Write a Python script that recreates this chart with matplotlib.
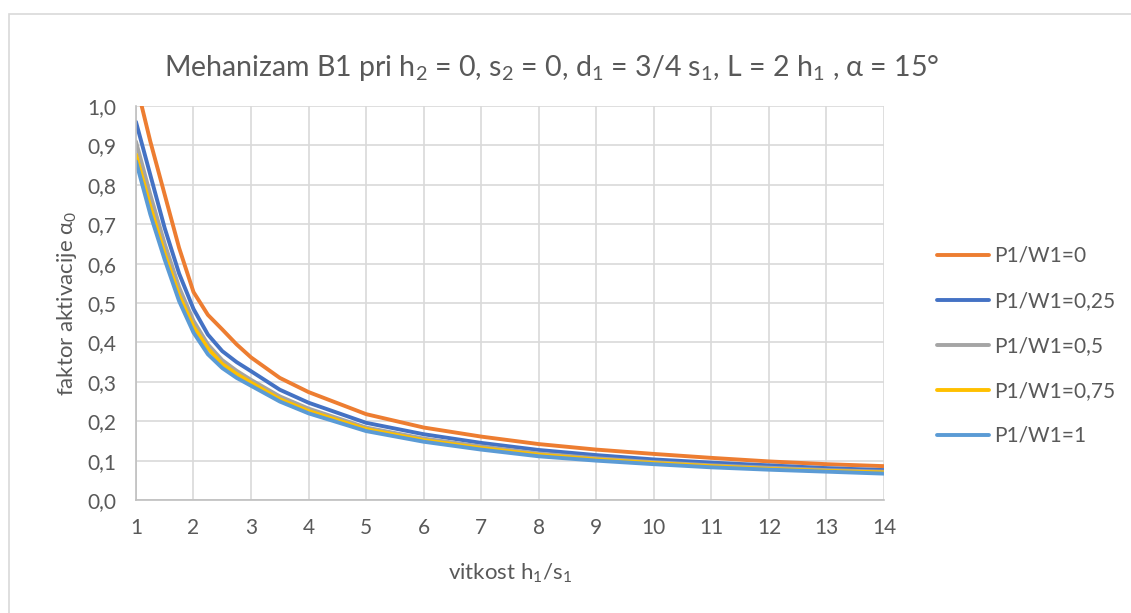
import matplotlib.pyplot as plt
from matplotlib.patches import Rectangle

plt.rcParams['font.family'] = ['Lato', 'DejaVu Sans']
plt.rcParams['mathtext.default'] = 'regular'

# data
vitkost = [1, 1.25, 1.5, 1.75, 2, 2.25, 2.5, 2.75, 3, 3.5, 4, 5, 6, 7, 8, 9, 10, 11, 12, 13, 14]
p_0 = [1.06, 0.91, 0.775, 0.64, 0.528, 0.47, 0.433, 0.395, 0.362, 0.31, 0.274, 0.218, 0.184, 0.161, 0.142, 0.128, 0.117, 0.107, 0.098, 0.091, 0.086]
p_025 = [0.96, 0.825, 0.69, 0.575, 0.485, 0.42, 0.378, 0.35, 0.327, 0.28, 0.247, 0.196, 0.167, 0.145, 0.127, 0.114, 0.103, 0.095, 0.088, 0.081, 0.076]
p_05 = [0.91, 0.775, 0.65, 0.54, 0.455, 0.395, 0.355, 0.328, 0.305, 0.263, 0.232, 0.184, 0.156, 0.136, 0.118, 0.106, 0.096, 0.088, 0.082, 0.076, 0.072]
p_075 = [0.877, 0.745, 0.625, 0.52, 0.44, 0.385, 0.345, 0.32, 0.298, 0.256, 0.226, 0.18, 0.152, 0.132, 0.115, 0.103, 0.094, 0.086, 0.079, 0.074, 0.070]
p_1 = [0.86, 0.725, 0.61, 0.505, 0.425, 0.37, 0.335, 0.31, 0.29, 0.25, 0.22, 0.175, 0.148, 0.128, 0.111, 0.100, 0.091, 0.083, 0.077, 0.072, 0.067]

labels = ['P1/W1=0', 'P1/W1=0,25', 'P1/W1=0,5', 'P1/W1=0,75', 'P1/W1=1']
colors = ['#ED7D31', '#4472C4', '#A5A5A5', '#FFC000', '#5B9BD5']
series = [p_0, p_025, p_05, p_075, p_1]

text_col = '#595959'

fig = plt.figure(figsize=(11.31, 6.13), dpi=100)
ax = fig.add_axes([0.1202, 0.1843, 0.6614, 0.6427])

# outer chart border
fig.patches.append(Rectangle((9 / 1131, -0.1), 1.2, 1 - 14 / 613 + 0.1,
                             transform=fig.transFigure, fill=False,
                             edgecolor='#d9d9d9', linewidth=1.2))

for vals, lab, col in zip(series, labels, colors):
    ax.plot(vitkost, vals, color=col, linewidth=2.8, label=lab,
            solid_capstyle='round', solid_joinstyle='round')

ax.set_xlim(1, 14)
ax.set_ylim(0, 1.0)
ax.set_xticks(range(1, 15))
ax.set_yticks([i / 10 for i in range(11)])
ax.set_yticklabels([f'{i / 10:.1f}'.replace('.', ',') for i in range(11)])
ax.grid(True, color='#d9d9d9', linewidth=1.2)
ax.set_axisbelow(True)
ax.tick_params(length=0, labelsize=15, colors=text_col)
ax.tick_params(axis='x', pad=13)
ax.tick_params(axis='y', pad=14)
for s in ['top', 'right']:
    ax.spines[s].set_visible(False)
for s in ['left', 'bottom']:
    ax.spines[s].set_color('#bfbfbf')
    ax.spines[s].set_linewidth(1.2)

ax.set_xlabel('vitkost h$_1$/s$_1$', fontsize=16, color=text_col, labelpad=17)
ax.set_ylabel('faktor aktivacije α$_0$', fontsize=16, color=text_col, labelpad=6)
fig.text(0.488, 0.889,
         'Mehanizam B1 pri h$_2$ = 0, s$_2$ = 0, d$_1$ = 3/4 s$_1$, L = 2 h$_1$ , α = 15°',
         fontsize=20.5, color=text_col, ha='center', va='center')

leg = ax.legend(loc='center left', bbox_to_anchor=(937 / 1131, 1 - 346 / 613),
                bbox_transform=fig.transFigure, frameon=False,
                fontsize=15, labelcolor=text_col, handlelength=2.5,
                handletextpad=0.25, labelspacing=1.2,
                borderpad=0, borderaxespad=0)

fig.savefig('out.png', dpi=100)
